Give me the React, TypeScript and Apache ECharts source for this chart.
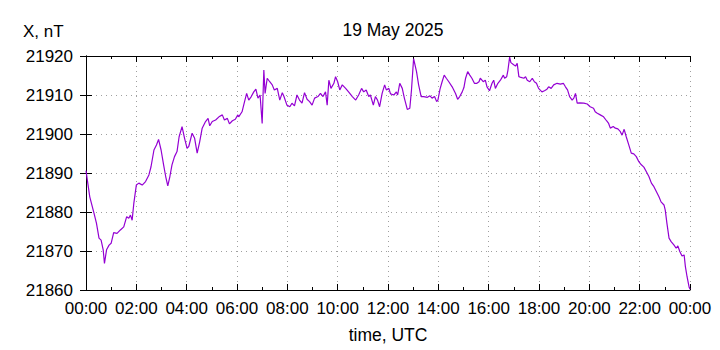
import React, { useEffect, useRef } from "react";
import * as echarts from "echarts";

const TITLE = "19 May 2025";
const Y_NAME = "X, nT";
const X_NAME = "time, UTC";

// minutes after 00:00 UTC
const minutes: number[] = [
  0, 9, 19, 25, 31, 36, 41, 44, 49, 55, 60, 66, 74, 82, 90, 97, 102, 106, 110, 114,
  120, 126, 134, 142, 150, 155, 162, 168, 173, 179, 185, 190, 195, 200, 205, 211, 217, 222, 229, 235,
  241, 245, 253, 259, 265, 271, 277, 285, 291, 295, 301, 309, 317, 325, 330, 337, 342, 349, 356, 362,
  364, 372, 378, 383, 388, 394, 400, 405, 410, 415, 420, 424, 427, 432, 438, 444, 449, 456, 462, 468,
  472, 479, 486, 491, 497, 503, 509, 515, 521, 527, 533, 539, 545, 553, 559, 565, 571, 575, 579, 584,
  591, 595, 600, 605, 611, 619, 626, 635, 643, 650, 657, 662, 668, 674, 678, 685, 690, 695, 700, 706,
  712, 716, 722, 726, 734, 740, 743, 748, 754, 759, 766, 772, 776, 781, 788, 793, 799, 805, 814, 820,
  825, 831, 836, 839, 844, 849, 854, 859, 865, 873, 881, 886, 891, 897, 901, 905, 910, 915, 920, 926,
  932, 937, 940, 947, 952, 956, 962, 968, 972, 976, 982, 988, 995, 998, 1003, 1006, 1010, 1013, 1018, 1024,
  1028, 1032, 1037, 1044, 1048, 1052, 1058, 1064, 1069, 1074, 1079, 1087, 1093, 1099, 1103, 1109, 1115, 1123, 1131, 1138,
  1143, 1148, 1153, 1159, 1163, 1167, 1171, 1177, 1187, 1195, 1202, 1210, 1214, 1219, 1226, 1234, 1241, 1246, 1250, 1257,
  1262, 1268, 1274, 1278, 1283, 1288, 1294, 1300, 1306, 1312, 1318, 1324, 1330, 1336, 1342, 1348, 1354, 1360, 1366, 1371,
  1378, 1381, 1385, 1390, 1395, 1402, 1407, 1411, 1416, 1421, 1426, 1429, 1433, 1438, 1440,
];

// X component, nT
const xValues: number[] = [
  21890.6, 21883.9, 21879.7, 21877.1, 21873.3, 21872.8, 21870.3, 21866.8, 21870.3, 21871.5, 21872.0, 21874.7, 21874.5, 21875.4, 21876.2, 21878.8, 21878.4, 21879.2, 21877.9, 21882.2,
  21886.9, 21887.4, 21886.9, 21887.8, 21889.5, 21891.6, 21895.9, 21897.2, 21898.6, 21895.9, 21892.1, 21889.1, 21886.7, 21889.1, 21892.1, 21894.2, 21895.5, 21899.3, 21901.9, 21898.9,
  21896.3, 21896.8, 21900.2, 21898.9, 21895.1, 21898.0, 21901.5, 21903.2, 21904.0, 21902.1, 21903.2, 21903.6, 21904.4, 21904.9, 21903.6, 21904.0, 21902.6, 21903.4, 21903.8, 21904.9,
  21904.4, 21905.7, 21908.3, 21910.4, 21908.7, 21909.6, 21910.8, 21911.5, 21909.2, 21910.0, 21902.7, 21916.4, 21910.4, 21914.3, 21913.4, 21912.6, 21911.3, 21911.7, 21908.7, 21910.6,
  21909.6, 21907.4, 21907.0, 21907.9, 21907.2, 21910.0, 21908.7, 21907.9, 21910.6, 21908.9, 21908.3, 21907.4, 21909.2, 21909.6, 21910.4, 21909.6, 21910.8, 21907.4, 21913.8, 21911.7,
  21913.0, 21914.7, 21913.4, 21911.3, 21912.6, 21911.7, 21910.8, 21909.6, 21908.7, 21910.0, 21911.7, 21910.8, 21911.3, 21909.6, 21910.0, 21907.4, 21909.6, 21908.7, 21907.0, 21910.4,
  21912.6, 21911.3, 21911.7, 21910.3, 21910.0, 21910.8, 21910.0, 21913.0, 21911.7, 21909.2, 21906.3, 21906.6, 21911.3, 21919.3, 21916.0, 21912.6, 21909.6, 21909.6, 21909.4, 21909.8,
  21909.2, 21909.6, 21908.3, 21908.7, 21911.5, 21913.4, 21915.1, 21914.3, 21913.4, 21912.1, 21910.4, 21908.9, 21909.6, 21910.8, 21911.9, 21914.3, 21916.0, 21915.1, 21914.3, 21913.0,
  21913.0, 21913.4, 21914.3, 21913.4, 21913.8, 21912.1, 21911.1, 21913.0, 21913.8, 21911.7, 21913.0, 21913.8, 21915.1, 21914.3, 21914.7, 21916.4, 21919.7, 21918.3, 21917.9, 21917.4,
  21918.1, 21914.7, 21914.5, 21914.3, 21914.7, 21913.8, 21913.4, 21914.3, 21913.4, 21913.0, 21911.7, 21910.8, 21911.1, 21911.5, 21912.1, 21911.7, 21912.6, 21913.0, 21912.8, 21913.0,
  21912.1, 21911.3, 21909.6, 21908.7, 21909.2, 21910.4, 21907.9, 21908.0, 21907.9, 21907.7, 21907.0, 21906.6, 21905.7, 21905.3, 21904.9, 21904.4, 21903.4, 21902.7, 21901.5, 21901.9,
  21901.5, 21901.3, 21900.6, 21899.7, 21901.2, 21899.3, 21897.2, 21895.1, 21894.9, 21894.2, 21892.9, 21892.1, 21891.5, 21890.3, 21889.1, 21887.4, 21886.5, 21885.2, 21883.9, 21882.6,
  21881.8, 21880.5, 21877.1, 21873.3, 21872.4, 21871.5, 21870.7, 21871.3, 21869.8, 21868.7, 21869.0, 21866.0, 21863.4, 21860.7, 21860.2,
];

const X_MIN = 0;
const X_MAX = 1440;
const X_STEP = 120;
const Y_MIN = 21860;
const Y_MAX = 21920;
const Y_STEP = 10;

const FONT = "'Liberation Sans', Arial, sans-serif";
const LINE_COLOR = "#9400d3";

function fmtTime(v: number): string {
  const h = Math.floor(v / 60) % 24;
  return (h < 10 ? "0" : "") + h + ":00";
}

export default function App() {
  const ref = useRef<HTMLDivElement>(null);

  useEffect(() => {
    if (!ref.current) return;
    const chart = echarts.init(ref.current, undefined, { renderer: "svg" });
    const data = minutes.map((m, i) => [m, xValues[i]]);

    const axisLine = { show: true, lineStyle: { color: "#000", width: 1 } };
    const label = { color: "#000", fontSize: 17, fontFamily: FONT };
    const grid = { show: true, lineStyle: { color: "#a0a0a0", width: 1, type: [1, 4] as any } };

    chart.setOption({
      animation: false,
      backgroundColor: "#fff",
      title: {
        text: TITLE,
        left: 388,
        top: 16,
        textAlign: "center",
        textStyle: { color: "#000", fontSize: 17.5, fontWeight: "normal", fontFamily: FONT },
      },
      graphic: [
        {
          type: "text",
          left: 23,
          top: 23,
          style: { text: Y_NAME, fill: "#000", fontSize: 17, fontFamily: FONT },
        },
      ],
      grid: { left: 86, top: 56, width: 604, height: 234, containLabel: false },
      xAxis: [
        {
          type: "value",
          min: X_MIN,
          max: X_MAX,
          interval: X_STEP,
          position: "bottom",
          name: X_NAME,
          nameLocation: "middle",
          nameGap: 36,
          nameTextStyle: { color: "#000", fontSize: 17.5, fontFamily: FONT },
          axisLine,
          axisTick: { show: true, inside: true, length: 6, lineStyle: { color: "#000" } },
          minorTick: { show: true, splitNumber: 2, length: 3, lineStyle: { color: "#000" } },
          axisLabel: { ...label, margin: 10, formatter: (v: number) => fmtTime(v), showMinLabel: true, showMaxLabel: true },
          splitLine: grid,
        },
        {
          type: "value",
          min: X_MIN,
          max: X_MAX,
          interval: X_STEP,
          position: "top",
          axisLine,
          axisTick: { show: true, inside: true, length: 6, lineStyle: { color: "#000" } },
          minorTick: { show: true, splitNumber: 2, length: 3, lineStyle: { color: "#000" } },
          axisLabel: { show: false },
          splitLine: { show: false },
        },
      ],
      yAxis: [
        {
          type: "value",
          min: Y_MIN,
          max: Y_MAX,
          interval: Y_STEP,
          position: "left",
          axisLine,
          axisTick: { show: true, inside: true, length: 6, lineStyle: { color: "#000" } },
          axisLabel: { ...label, margin: 13, formatter: (v: number) => String(v) },
          splitLine: grid,
        },
        {
          type: "value",
          min: Y_MIN,
          max: Y_MAX,
          interval: Y_STEP,
          position: "right",
          axisLine,
          axisTick: { show: true, inside: true, length: 6, lineStyle: { color: "#000" } },
          axisLabel: { show: false },
          splitLine: { show: false },
        },
      ],
      series: [
        {
          type: "line",
          xAxisIndex: 0,
          yAxisIndex: 0,
          data,
          showSymbol: false,
          symbol: "none",
          lineStyle: { color: LINE_COLOR, width: 1.2 },
          itemStyle: { color: LINE_COLOR },
        },
      ],
    });

    return () => chart.dispose();
  }, []);

  return (
    <div
      ref={ref}
      style={{ position: "fixed", left: 0, top: 0, width: 720, height: 350, background: "#fff" }}
    />
  );
}
